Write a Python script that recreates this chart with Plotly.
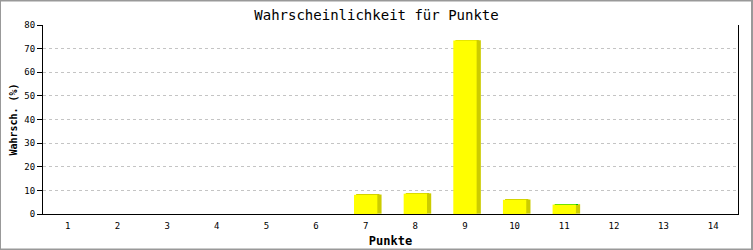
import plotly.graph_objects as go

categories = list(range(1, 15))
tick_labels = [str(c) for c in categories]
values = [0, 0, 0, 0, 0, 0, 8.1, 8.6, 73.4, 6.0, 4.0, 0, 0, 0]
top_colors = ["#cccc00"] * 10 + ["#00cc00"] + ["#cccc00"] * 3

dz = 0.14      # depth of 3D effect in value units
bw = 0.47      # bar width in category units
dx = 0.085     # depth shift in category units

MONO = "DejaVu Sans Mono"

fig = go.Figure()
# back (side/top) faces
fig.add_trace(go.Bar(
    x=categories, y=values, base=[dz if v > 0 else 0 for v in values],
    width=bw, offset=-bw / 2 + dx,
    marker=dict(color="#cccc00", line=dict(width=0)),
    hoverinfo="skip", showlegend=False,
))
# coloured top strip
fig.add_trace(go.Bar(
    x=categories, y=[dz if v > 0 else 0 for v in values], base=values,
    width=bw, offset=-bw / 2 + dx / 2,
    marker=dict(color=top_colors, line=dict(width=0)),
    hoverinfo="skip", showlegend=False,
))
# front faces
fig.add_trace(go.Bar(
    x=categories, y=values, width=bw, offset=-bw / 2,
    marker=dict(color="#ffff00", line=dict(width=0)),
    showlegend=False,
))

fig.update_layout(
    width=753, height=250,
    margin=dict(l=43, r=15, t=25, b=36, autoexpand=False),
    paper_bgcolor="white", plot_bgcolor="white",
    barmode="overlay",
    title=dict(text="Wahrscheinlichkeit für Punkte", x=0.5, xanchor="center",
               y=1 - 15 / 250, yanchor="middle",
               font=dict(family=MONO, size=14, color="black")),
    xaxis=dict(
        range=[0.5, 14.5], tickmode="array", tickvals=categories, ticktext=tick_labels,
        showgrid=False, zeroline=False, showline=True, linecolor="black", linewidth=1,
        ticks="", ticklabelstandoff=3, automargin=False,
        tickfont=dict(family=MONO, size=9, color="black"),
        title=dict(text="<b>Punkte</b>", font=dict(family=MONO, size=12, color="black"),
                   standoff=6),
    ),
    yaxis=dict(
        range=[0, 80], tickvals=list(range(0, 81, 10)), showgrid=True,
        gridcolor="#c4c4c4", griddash="dot", gridwidth=1, automargin=False,
        zeroline=False, showline=True, linecolor="black", linewidth=1, mirror=True,
        ticks="outside", ticklen=5, tickcolor="black",
        tickfont=dict(family=MONO, size=9, color="black"),
        title=dict(text="<b>Wahrsch. (%)</b>", font=dict(family=MONO, size=10, color="black"),
                   standoff=4),
    ),
    shapes=[dict(type="rect", xref="paper", yref="paper",
                 x0=-43 / 695, x1=1 + 14 / 695, y0=-35.5 / 189, y1=1 + 24.5 / 189,
                 line=dict(color="#999999", width=2), fillcolor="rgba(0,0,0,0)")],
)

fig.write_html("out.html")
